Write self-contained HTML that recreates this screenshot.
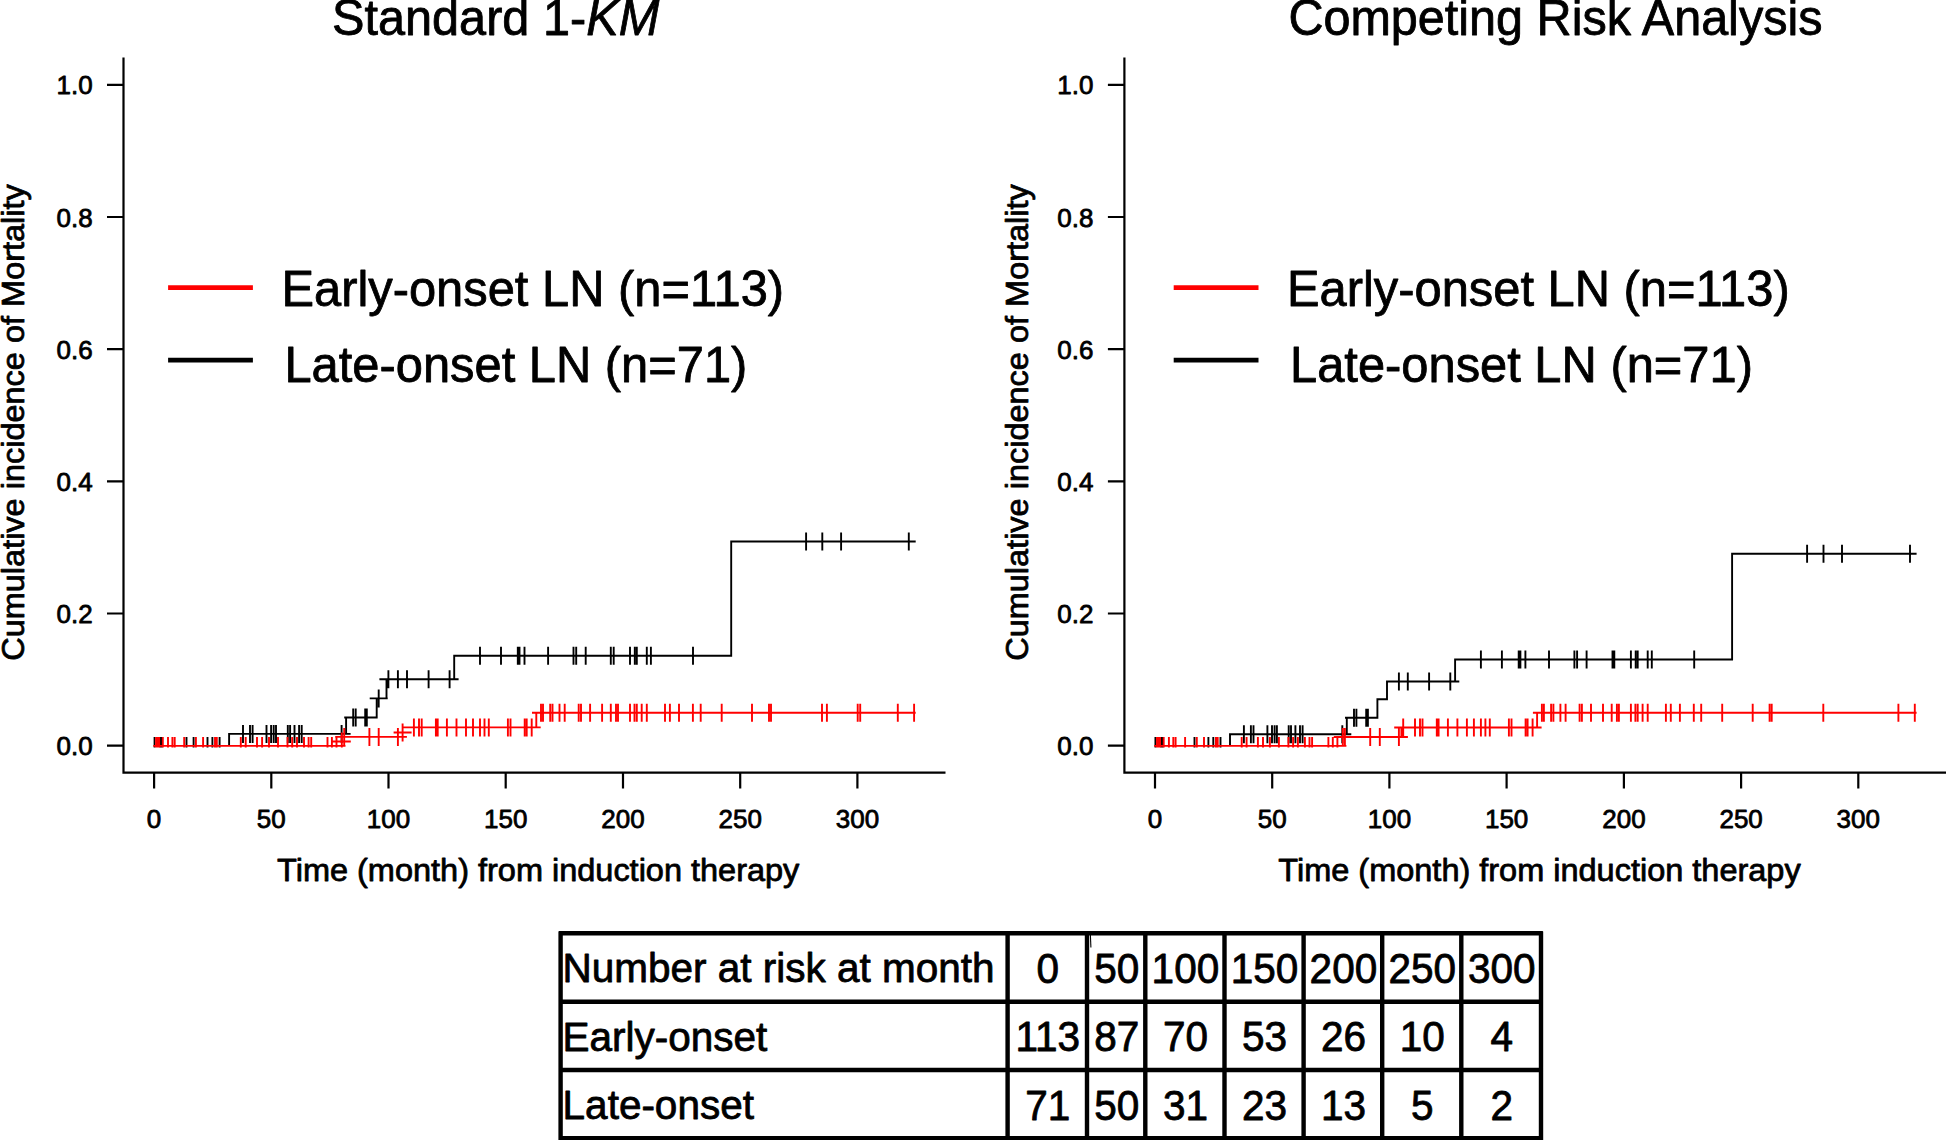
<!DOCTYPE html>
<html lang="en"><head><meta charset="utf-8"><title>Cumulative incidence of mortality</title>
<style>
html,body{margin:0;padding:0;background:#fff}
svg{display:block}
text{font-family:"Liberation Sans",Arial,Helvetica,sans-serif;fill:#000;stroke:#000;stroke-width:0.8px;stroke-linejoin:round}
.ti{font-size:48.65px}
.ti2{font-size:48.55px}
.lg{font-size:48.85px}
.tk{font-size:26px}
.al{font-size:32.5px}
.tb{font-size:40.5px}
</style></head><body>
<svg width="1946" height="1140" viewBox="0 0 1946 1140">
<defs><clipPath id="cl"><rect x="153.3" y="500" width="762.4" height="247.6"/></clipPath><clipPath id="cr"><rect x="1154.2" y="500" width="762.4" height="247.6"/></clipPath></defs>
<rect width="1946" height="1140" fill="#fff"/>
<text transform="translate(332.0 35.3) scale(1 1.035)" class="ti">Standard 1-<tspan font-style="italic">KM</tspan></text>
<text transform="translate(1288.4 35.3) scale(1 1.035)" class="ti2">Competing Risk Analysis</text>
<path d="M123.5 57.5V772.6H945.5M123.5 745.6h-16.5M123.5 613.5h-16.5M123.5 481.3h-16.5M123.5 349.1h-16.5M123.5 217.0h-16.5M123.5 84.9h-16.5M154.1 772.6v16M271.3 772.6v16M388.5 772.6v16M505.7 772.6v16M623.0 772.6v16M740.2 772.6v16M857.4 772.6v16" stroke="#000" stroke-width="2.2" fill="none"/>
<text transform="translate(92.6 755.1) scale(1 0.97)" text-anchor="end" class="tk">0.0</text>
<text transform="translate(92.6 623.0) scale(1 0.97)" text-anchor="end" class="tk">0.2</text>
<text transform="translate(92.6 490.8) scale(1 0.97)" text-anchor="end" class="tk">0.4</text>
<text transform="translate(92.6 358.6) scale(1 0.97)" text-anchor="end" class="tk">0.6</text>
<text transform="translate(92.6 226.5) scale(1 0.97)" text-anchor="end" class="tk">0.8</text>
<text transform="translate(92.6 94.4) scale(1 0.97)" text-anchor="end" class="tk">1.0</text>
<text transform="translate(154.1 828.0) scale(1 0.97)" text-anchor="middle" class="tk">0</text>
<text transform="translate(271.3 828.0) scale(1 0.97)" text-anchor="middle" class="tk">50</text>
<text transform="translate(388.5 828.0) scale(1 0.97)" text-anchor="middle" class="tk">100</text>
<text transform="translate(505.7 828.0) scale(1 0.97)" text-anchor="middle" class="tk">150</text>
<text transform="translate(623.0 828.0) scale(1 0.97)" text-anchor="middle" class="tk">200</text>
<text transform="translate(740.2 828.0) scale(1 0.97)" text-anchor="middle" class="tk">250</text>
<text transform="translate(857.4 828.0) scale(1 0.97)" text-anchor="middle" class="tk">300</text>
<text transform="translate(538.2 880.8) scale(1 0.975)" text-anchor="middle" class="al">Time (month) from induction therapy</text>
<text transform="translate(24.1 422.5) rotate(-90) scale(1 0.975)" text-anchor="middle" class="al">Cumulative incidence of Mortality</text>
<path d="M168.1 287.6H252.9" stroke="#f00" stroke-width="4.7"/>
<path d="M168.1 360.2H252.9" stroke="#000" stroke-width="4.7"/>
<text transform="translate(281.4 305.6) scale(1 1.035)" class="lg">Early-onset LN (n=113)</text>
<text transform="translate(284.4 381.5) scale(1 1.035)" class="lg">Late-onset LN (n=71)</text>
<path d="M1124.4 57.5V772.6H1946.4M1124.4 745.6h-16.5M1124.4 613.5h-16.5M1124.4 481.3h-16.5M1124.4 349.1h-16.5M1124.4 217.0h-16.5M1124.4 84.9h-16.5M1155.0 772.6v16M1272.2 772.6v16M1389.4 772.6v16M1506.6 772.6v16M1623.9 772.6v16M1741.1 772.6v16M1858.3 772.6v16" stroke="#000" stroke-width="2.2" fill="none"/>
<text transform="translate(1093.5 755.1) scale(1 0.97)" text-anchor="end" class="tk">0.0</text>
<text transform="translate(1093.5 623.0) scale(1 0.97)" text-anchor="end" class="tk">0.2</text>
<text transform="translate(1093.5 490.8) scale(1 0.97)" text-anchor="end" class="tk">0.4</text>
<text transform="translate(1093.5 358.6) scale(1 0.97)" text-anchor="end" class="tk">0.6</text>
<text transform="translate(1093.5 226.5) scale(1 0.97)" text-anchor="end" class="tk">0.8</text>
<text transform="translate(1093.5 94.4) scale(1 0.97)" text-anchor="end" class="tk">1.0</text>
<text transform="translate(1155.0 828.0) scale(1 0.97)" text-anchor="middle" class="tk">0</text>
<text transform="translate(1272.2 828.0) scale(1 0.97)" text-anchor="middle" class="tk">50</text>
<text transform="translate(1389.4 828.0) scale(1 0.97)" text-anchor="middle" class="tk">100</text>
<text transform="translate(1506.6 828.0) scale(1 0.97)" text-anchor="middle" class="tk">150</text>
<text transform="translate(1623.9 828.0) scale(1 0.97)" text-anchor="middle" class="tk">200</text>
<text transform="translate(1741.1 828.0) scale(1 0.97)" text-anchor="middle" class="tk">250</text>
<text transform="translate(1858.3 828.0) scale(1 0.97)" text-anchor="middle" class="tk">300</text>
<text transform="translate(1539.5 880.8) scale(1 0.975)" text-anchor="middle" class="al">Time (month) from induction therapy</text>
<text transform="translate(1028.2 422.5) rotate(-90) scale(1 0.975)" text-anchor="middle" class="al">Cumulative incidence of Mortality</text>
<path d="M1173.7 287.6H1258.5" stroke="#f00" stroke-width="4.7"/>
<path d="M1173.7 360.2H1258.5" stroke="#000" stroke-width="4.7"/>
<text transform="translate(1287.0 305.6) scale(1 1.035)" class="lg">Early-onset LN (n=113)</text>
<text transform="translate(1290.0 381.5) scale(1 1.035)" class="lg">Late-onset LN (n=71)</text>
<g clip-path="url(#cl)" fill="none" stroke-width="1.9">
<path d="M229.1 745.9V733.9H346.1V717.5H376.7V698.4H386.5V679.3H454.2V655.8H731.2V541.5H916M154.4 736.9V754.9M160.5 736.9V754.9M161.6 736.9V754.9M186.5 736.9V754.9M193.6 736.9V754.9M207.5 736.9V754.9M212.4 736.9V754.9M219.6 736.9V754.9M243.0 724.9V742.9M234.0 733.9H252.0M250.0 724.9V742.9M241.0 733.9H259.0M252.6 724.9V742.9M243.6 733.9H261.6M266.5 724.9V742.9M257.5 733.9H275.5M271.1 724.9V742.9M262.1 733.9H280.1M273.7 724.9V742.9M264.7 733.9H282.7M276.0 724.9V742.9M267.0 733.9H285.0M287.8 724.9V742.9M278.8 733.9H296.8M290.1 724.9V742.9M281.1 733.9H299.1M294.5 724.9V742.9M285.5 733.9H303.5M299.1 724.9V742.9M290.1 733.9H308.1M301.7 724.9V742.9M292.7 733.9H310.7M341.6 724.9V742.9M332.6 733.9H350.6M353.2 708.5V726.5M344.2 717.5H362.2M355.7 708.5V726.5M346.7 717.5H364.7M365.2 708.5V726.5M356.2 717.5H374.2M366.8 708.5V726.5M357.8 717.5H375.8M378.7 689.4V707.4M369.7 698.4H387.7M388.4 670.3V688.3M379.4 679.3H397.4M397.9 670.3V688.3M388.9 679.3H406.9M407.0 670.3V688.3M398.0 679.3H416.0M428.6 670.3V688.3M419.6 679.3H437.6M449.6 670.3V688.3M440.6 679.3H458.6M480.0 646.8V664.8M471.0 655.8H489.0M501.0 646.8V664.8M492.0 655.8H510.0M517.8 646.8V664.8M508.8 655.8H526.8M519.5 646.8V664.8M510.5 655.8H528.5M524.5 646.8V664.8M515.5 655.8H533.5M548.1 646.8V664.8M539.1 655.8H557.1M573.5 646.8V664.8M564.5 655.8H582.5M576.2 646.8V664.8M567.2 655.8H585.2M585.7 646.8V664.8M576.7 655.8H594.7M610.8 646.8V664.8M601.8 655.8H619.8M613.7 646.8V664.8M604.7 655.8H622.7M630.0 646.8V664.8M621.0 655.8H639.0M634.8 646.8V664.8M625.8 655.8H643.8M636.8 646.8V664.8M627.8 655.8H645.8M646.8 646.8V664.8M637.8 655.8H655.8M650.9 646.8V664.8M641.9 655.8H659.9M693.0 646.8V664.8M684.0 655.8H702.0M806.1 532.5V550.5M797.1 541.5H815.1M822.3 532.5V550.5M813.3 541.5H831.3M841.1 532.5V550.5M832.1 541.5H850.1M908.8 532.5V550.5M899.8 541.5H917.8" stroke="#000"/>
<path d="M153.5 745.9H344.2V736.9H402.6V727.4H536.3V712.8H916M156.1 736.9V754.9M147.1 745.9H165.1M157.8 736.9V754.9M148.8 745.9H166.8M159.2 736.9V754.9M150.2 745.9H168.2M162.8 736.9V754.9M153.8 745.9H171.8M168.0 736.9V754.9M159.0 745.9H177.0M172.4 736.9V754.9M163.4 745.9H181.4M174.7 736.9V754.9M165.7 745.9H183.7M184.2 736.9V754.9M175.2 745.9H193.2M195.9 736.9V754.9M186.9 745.9H204.9M203.1 736.9V754.9M194.1 745.9H212.1M215.0 736.9V754.9M206.0 745.9H224.0M216.8 736.9V754.9M207.8 745.9H225.8M240.8 736.9V754.9M231.8 745.9H249.8M245.7 736.9V754.9M236.7 745.9H254.7M257.0 736.9V754.9M248.0 745.9H266.0M262.1 736.9V754.9M253.1 745.9H271.1M269.0 736.9V754.9M260.0 745.9H278.0M278.0 736.9V754.9M269.0 745.9H287.0M287.5 736.9V754.9M278.5 745.9H296.5M292.2 736.9V754.9M283.2 745.9H301.2M297.0 736.9V754.9M288.0 745.9H306.0M304.0 736.9V754.9M295.0 745.9H313.0M308.6 736.9V754.9M299.6 745.9H317.6M311.2 736.9V754.9M302.2 745.9H320.2M327.5 736.9V754.9M318.5 745.9H336.5M331.9 736.9V754.9M322.9 745.9H340.9M336.5 736.9V754.9M327.5 745.9H345.5M344.2 727.9V745.9M335.2 736.9H353.2M369.4 727.9V745.9M360.4 736.9H378.4M378.7 727.9V745.9M369.7 736.9H387.7M397.9 727.9V745.9M388.9 736.9H406.9M413.9 718.4V736.4M404.9 727.4H422.9M419.0 718.4V736.4M410.0 727.4H428.0M421.7 718.4V736.4M412.7 727.4H430.7M435.9 718.4V736.4M426.9 727.4H444.9M437.7 718.4V736.4M428.7 727.4H446.7M446.9 718.4V736.4M437.9 727.4H455.9M456.5 718.4V736.4M447.5 727.4H465.5M466.0 718.4V736.4M457.0 727.4H475.0M473.0 718.4V736.4M464.0 727.4H482.0M480.0 718.4V736.4M471.0 727.4H489.0M484.5 718.4V736.4M475.5 727.4H493.5M488.8 718.4V736.4M479.8 727.4H497.8M507.9 718.4V736.4M498.9 727.4H516.9M510.5 718.4V736.4M501.5 727.4H519.5M524.7 718.4V736.4M515.7 727.4H533.7M526.7 718.4V736.4M517.7 727.4H535.7M531.7 718.4V736.4M522.7 727.4H540.7M541.0 703.8V721.8M532.0 712.8H550.0M543.0 703.8V721.8M534.0 712.8H552.0M550.2 703.8V721.8M541.2 712.8H559.2M552.5 703.8V721.8M543.5 712.8H561.5M559.5 703.8V721.8M550.5 712.8H568.5M564.7 703.8V721.8M555.7 712.8H573.7M578.7 703.8V721.8M569.7 712.8H587.7M581.0 703.8V721.8M572.0 712.8H590.0M590.1 703.8V721.8M581.1 712.8H599.1M602.1 703.8V721.8M593.1 712.8H611.1M610.8 703.8V721.8M601.8 712.8H619.8M616.0 703.8V721.8M607.0 712.8H625.0M618.0 703.8V721.8M609.0 712.8H627.0M630.0 703.8V721.8M621.0 712.8H639.0M634.5 703.8V721.8M625.5 712.8H643.5M636.8 703.8V721.8M627.8 712.8H645.8M641.7 703.8V721.8M632.7 712.8H650.7M646.8 703.8V721.8M637.8 712.8H655.8M665.0 703.8V721.8M656.0 712.8H674.0M669.9 703.8V721.8M660.9 712.8H678.9M679.0 703.8V721.8M670.0 712.8H688.0M692.9 703.8V721.8M683.9 712.8H701.9M700.7 703.8V721.8M691.7 712.8H709.7M721.7 703.8V721.8M712.7 712.8H730.7M752.0 703.8V721.8M743.0 712.8H761.0M769.0 703.8V721.8M760.0 712.8H778.0M771.0 703.8V721.8M762.0 712.8H780.0M822.0 703.8V721.8M813.0 712.8H831.0M826.9 703.8V721.8M817.9 712.8H835.9M857.7 703.8V721.8M848.7 712.8H866.7M860.2 703.8V721.8M851.2 712.8H869.2M897.8 703.8V721.8M888.8 712.8H906.8M914.1 703.8V721.8M905.1 712.8H923.1M341.8 732.5V750.5M332.8 741.5H350.8M402.6 723.5V741.5M393.6 732.5H411.6" stroke="#f00"/>
</g>
<g clip-path="url(#cr)" fill="none" stroke-width="1.9">
<path d="M1230.0 745.9V734.3H1346.8V717.8H1377.4V699.3H1387.0V681.5H1455.1V659.5H1732.1V553.7H1917M1155.3 736.9V754.9M1161.4 736.9V754.9M1162.5 736.9V754.9M1194.5 736.9V754.9M1208.4 736.9V754.9M1213.3 736.9V754.9M1220.5 736.9V754.9M1243.9 725.3V743.3M1234.9 734.3H1252.9M1250.9 725.3V743.3M1241.9 734.3H1259.9M1253.5 725.3V743.3M1244.5 734.3H1262.5M1267.4 725.3V743.3M1258.4 734.3H1276.4M1272.0 725.3V743.3M1263.0 734.3H1281.0M1274.6 725.3V743.3M1265.6 734.3H1283.6M1276.9 725.3V743.3M1267.9 734.3H1285.9M1288.7 725.3V743.3M1279.7 734.3H1297.7M1291.0 725.3V743.3M1282.0 734.3H1300.0M1295.4 725.3V743.3M1286.4 734.3H1304.4M1300.0 725.3V743.3M1291.0 734.3H1309.0M1302.6 725.3V743.3M1293.6 734.3H1311.6M1342.3 725.3V743.3M1333.3 734.3H1351.3M1354.0 708.8V726.8M1345.0 717.8H1363.0M1356.4 708.8V726.8M1347.4 717.8H1365.4M1366.2 708.8V726.8M1357.2 717.8H1375.2M1367.9 708.8V726.8M1358.9 717.8H1376.9M1398.9 672.5V690.5M1389.9 681.5H1407.9M1407.8 672.5V690.5M1398.8 681.5H1416.8M1429.1 672.5V690.5M1420.1 681.5H1438.1M1450.3 672.5V690.5M1441.3 681.5H1459.3M1480.9 650.5V668.5M1471.9 659.5H1489.9M1501.9 650.5V668.5M1492.9 659.5H1510.9M1518.7 650.5V668.5M1509.7 659.5H1527.7M1520.4 650.5V668.5M1511.4 659.5H1529.4M1525.4 650.5V668.5M1516.4 659.5H1534.4M1549.0 650.5V668.5M1540.0 659.5H1558.0M1574.4 650.5V668.5M1565.4 659.5H1583.4M1577.1 650.5V668.5M1568.1 659.5H1586.1M1586.6 650.5V668.5M1577.6 659.5H1595.6M1612.5 650.5V668.5M1603.5 659.5H1621.5M1614.3 650.5V668.5M1605.3 659.5H1623.3M1630.9 650.5V668.5M1621.9 659.5H1639.9M1635.7 650.5V668.5M1626.7 659.5H1644.7M1637.7 650.5V668.5M1628.7 659.5H1646.7M1647.7 650.5V668.5M1638.7 659.5H1656.7M1651.8 650.5V668.5M1642.8 659.5H1660.8M1694.2 650.5V668.5M1685.2 659.5H1703.2M1807.1 544.7V562.7M1798.1 553.7H1816.1M1823.5 544.7V562.7M1814.5 553.7H1832.5M1842.0 544.7V562.7M1833.0 553.7H1851.0M1910.0 544.7V562.7M1901.0 553.7H1919.0" stroke="#000"/>
<path d="M1154.4 745.9H1344.9V737.0H1401.4V727.5H1537.1V712.7H1917M1157.0 736.9V754.9M1148.0 745.9H1166.0M1158.7 736.9V754.9M1149.7 745.9H1167.7M1160.1 736.9V754.9M1151.1 745.9H1169.1M1163.7 736.9V754.9M1154.7 745.9H1172.7M1168.9 736.9V754.9M1159.9 745.9H1177.9M1173.3 736.9V754.9M1164.3 745.9H1182.3M1175.6 736.9V754.9M1166.6 745.9H1184.6M1185.1 736.9V754.9M1176.1 745.9H1194.1M1196.8 736.9V754.9M1187.8 745.9H1205.8M1204.0 736.9V754.9M1195.0 745.9H1213.0M1215.9 736.9V754.9M1206.9 745.9H1224.9M1217.7 736.9V754.9M1208.7 745.9H1226.7M1241.7 736.9V754.9M1232.7 745.9H1250.7M1246.6 736.9V754.9M1237.6 745.9H1255.6M1257.9 736.9V754.9M1248.9 745.9H1266.9M1263.0 736.9V754.9M1254.0 745.9H1272.0M1269.9 736.9V754.9M1260.9 745.9H1278.9M1278.9 736.9V754.9M1269.9 745.9H1287.9M1288.4 736.9V754.9M1279.4 745.9H1297.4M1293.1 736.9V754.9M1284.1 745.9H1302.1M1297.9 736.9V754.9M1288.9 745.9H1306.9M1304.9 736.9V754.9M1295.9 745.9H1313.9M1309.5 736.9V754.9M1300.5 745.9H1318.5M1312.1 736.9V754.9M1303.1 745.9H1321.1M1328.4 736.9V754.9M1319.4 745.9H1337.4M1332.8 736.9V754.9M1323.8 745.9H1341.8M1337.4 736.9V754.9M1328.4 745.9H1346.4M1342.8 728.0V746.0M1333.8 737.0H1351.8M1344.9 728.0V746.0M1335.9 737.0H1353.9M1370.2 728.0V746.0M1361.2 737.0H1379.2M1379.8 728.0V746.0M1370.8 737.0H1388.8M1398.9 728.0V746.0M1389.9 737.0H1407.9M1403.2 718.5V736.5M1394.2 727.5H1412.2M1415.0 718.5V736.5M1406.0 727.5H1424.0M1420.0 718.5V736.5M1411.0 727.5H1429.0M1422.5 718.5V736.5M1413.5 727.5H1431.5M1436.8 718.5V736.5M1427.8 727.5H1445.8M1438.6 718.5V736.5M1429.6 727.5H1447.6M1447.9 718.5V736.5M1438.9 727.5H1456.9M1457.4 718.5V736.5M1448.4 727.5H1466.4M1466.9 718.5V736.5M1457.9 727.5H1475.9M1473.9 718.5V736.5M1464.9 727.5H1482.9M1480.9 718.5V736.5M1471.9 727.5H1489.9M1485.4 718.5V736.5M1476.4 727.5H1494.4M1489.8 718.5V736.5M1480.8 727.5H1498.8M1508.9 718.5V736.5M1499.9 727.5H1517.9M1511.5 718.5V736.5M1502.5 727.5H1520.5M1525.6 718.5V736.5M1516.6 727.5H1534.6M1527.6 718.5V736.5M1518.6 727.5H1536.6M1532.6 718.5V736.5M1523.6 727.5H1541.6M1541.9 703.7V721.7M1532.9 712.7H1550.9M1543.9 703.7V721.7M1534.9 712.7H1552.9M1551.1 703.7V721.7M1542.1 712.7H1560.1M1553.4 703.7V721.7M1544.4 712.7H1562.4M1560.4 703.7V721.7M1551.4 712.7H1569.4M1565.6 703.7V721.7M1556.6 712.7H1574.6M1579.6 703.7V721.7M1570.6 712.7H1588.6M1581.9 703.7V721.7M1572.9 712.7H1590.9M1591.0 703.7V721.7M1582.0 712.7H1600.0M1603.0 703.7V721.7M1594.0 712.7H1612.0M1611.7 703.7V721.7M1602.7 712.7H1620.7M1616.9 703.7V721.7M1607.9 712.7H1625.9M1618.9 703.7V721.7M1609.9 712.7H1627.9M1630.9 703.7V721.7M1621.9 712.7H1639.9M1635.4 703.7V721.7M1626.4 712.7H1644.4M1637.7 703.7V721.7M1628.7 712.7H1646.7M1642.6 703.7V721.7M1633.6 712.7H1651.6M1647.7 703.7V721.7M1638.7 712.7H1656.7M1665.9 703.7V721.7M1656.9 712.7H1674.9M1670.8 703.7V721.7M1661.8 712.7H1679.8M1679.9 703.7V721.7M1670.9 712.7H1688.9M1693.8 703.7V721.7M1684.8 712.7H1702.8M1701.2 703.7V721.7M1692.2 712.7H1710.2M1722.2 703.7V721.7M1713.2 712.7H1731.2M1752.7 703.7V721.7M1743.7 712.7H1761.7M1769.6 703.7V721.7M1760.6 712.7H1778.6M1771.7 703.7V721.7M1762.7 712.7H1780.7M1823.3 703.7V721.7M1814.3 712.7H1832.3M1898.4 703.7V721.7M1889.4 712.7H1907.4M1914.8 703.7V721.7M1905.8 712.7H1923.8" stroke="#f00"/>
</g>
<path d="M560.6 931.4000000000001V1140M1007.6 931.4000000000001V1140M1087.0 931.4000000000001V1140M1145.3 931.4000000000001V1140M1224.5 931.4000000000001V1140M1303.6 931.4000000000001V1140M1382.2 931.4000000000001V1140M1461.3 931.4000000000001V1140M1541 931.4000000000001V1140M558.8000000000001 933.2H1542.8M558.8000000000001 1001.8H1542.8M558.8000000000001 1070.0H1542.8M558.8000000000001 1138.3H1542.8" stroke="#000" stroke-width="4.4" fill="none"/>
<text transform="translate(562.6 982.4) scale(1 1.02)" class="tb">Number at risk at month</text>
<text transform="translate(562.6 1050.7) scale(1 1.02)" class="tb">Early-onset</text>
<text transform="translate(562.6 1118.9) scale(1 1.02)" class="tb">Late-onset</text>
<text transform="translate(1047.8 983.1) scale(1 1.05)" text-anchor="middle" class="tb">0</text>
<text transform="translate(1116.7 983.1) scale(1 1.05)" text-anchor="middle" class="tb">50</text>
<text transform="translate(1185.4 983.1) scale(1 1.05)" text-anchor="middle" class="tb">100</text>
<text transform="translate(1264.5 983.1) scale(1 1.05)" text-anchor="middle" class="tb">150</text>
<text transform="translate(1343.4 983.1) scale(1 1.05)" text-anchor="middle" class="tb">200</text>
<text transform="translate(1422.2 983.1) scale(1 1.05)" text-anchor="middle" class="tb">250</text>
<text transform="translate(1501.7 983.1) scale(1 1.05)" text-anchor="middle" class="tb">300</text>
<text transform="translate(1047.8 1051.4) scale(1 1.05)" text-anchor="middle" class="tb">113</text>
<text transform="translate(1116.7 1051.4) scale(1 1.05)" text-anchor="middle" class="tb">87</text>
<text transform="translate(1185.4 1051.4) scale(1 1.05)" text-anchor="middle" class="tb">70</text>
<text transform="translate(1264.5 1051.4) scale(1 1.05)" text-anchor="middle" class="tb">53</text>
<text transform="translate(1343.4 1051.4) scale(1 1.05)" text-anchor="middle" class="tb">26</text>
<text transform="translate(1422.2 1051.4) scale(1 1.05)" text-anchor="middle" class="tb">10</text>
<text transform="translate(1501.7 1051.4) scale(1 1.05)" text-anchor="middle" class="tb">4</text>
<text transform="translate(1047.8 1119.6) scale(1 1.05)" text-anchor="middle" class="tb">71</text>
<text transform="translate(1116.7 1119.6) scale(1 1.05)" text-anchor="middle" class="tb">50</text>
<text transform="translate(1185.4 1119.6) scale(1 1.05)" text-anchor="middle" class="tb">31</text>
<text transform="translate(1264.5 1119.6) scale(1 1.05)" text-anchor="middle" class="tb">23</text>
<text transform="translate(1343.4 1119.6) scale(1 1.05)" text-anchor="middle" class="tb">13</text>
<text transform="translate(1422.2 1119.6) scale(1 1.05)" text-anchor="middle" class="tb">5</text>
<text transform="translate(1501.7 1119.6) scale(1 1.05)" text-anchor="middle" class="tb">2</text>
<path d="M1090.4 935L1090.9 947.6" stroke="#000" stroke-width="1.1"/>
</svg>
</body></html>
